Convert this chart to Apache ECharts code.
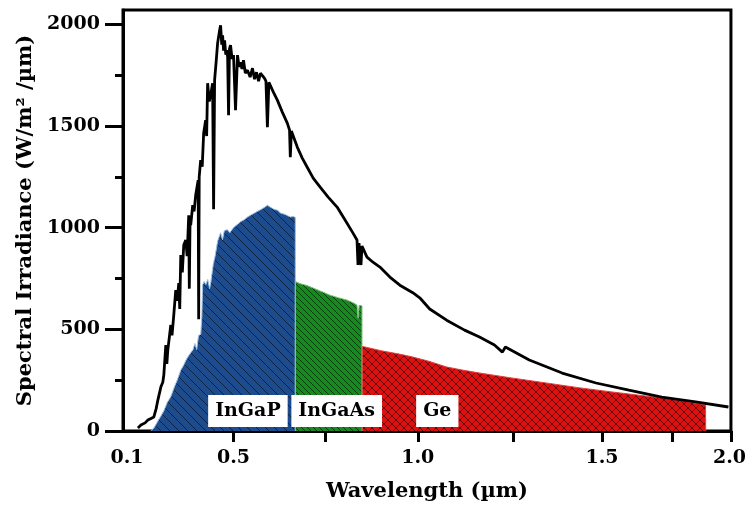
<!DOCTYPE html>
<html>
<head>
<meta charset="utf-8">
<script src="https://cdn.jsdelivr.net/npm/echarts@6/dist/echarts.min.js"></script>
<style>
    html,body{margin:0;padding:0;background:#fff;}
    #spectrum{width:749px;height:516px;}
</style>
</head>
<body>
<div id="spectrum"></div>
<script>
// AM0 solar spectrum (wavelength um, W/m2/um)
const am0X=[0.2405,0.2486,0.2600,0.2676,0.2760,0.2838,0.2900,0.2946,0.3027,0.3080,0.3108,0.3162,0.3190,0.3216,0.3297,0.3330,0.3378,0.3432,0.3470,0.3514,0.3540,0.3568,0.3610,0.3649,0.3703,0.3740,0.3784,0.3800,0.3820,0.3838,0.3892,0.3930,0.3973,0.4040,0.4054,0.4068,0.4108,0.4150,0.4189,0.4243,0.4270,0.4297,0.4340,0.4378,0.4432,0.4459,0.4486,0.4530,0.4568,0.4622,0.4649,0.4680,0.4703,0.4730,0.4757,0.4790,0.4811,0.4840,0.4865,0.4890,0.4919,0.4960,0.5000,0.5054,0.5108,0.5150,0.5189,0.5230,0.5270,0.5320,0.5378,0.5450,0.5514,0.5570,0.5622,0.5680,0.5730,0.5838,0.5880,0.5919,0.5960,0.6081,0.6189,0.6324,0.6459,0.6520,0.6541,0.6570,0.6730,0.6865,0.7000,0.7162,0.7351,0.7568,0.7811,0.8027,0.8243,0.8351,0.8378,0.8405,0.8459,0.8486,0.8622,0.8784,0.8973,0.9243,0.9514,0.9865,1.0054,1.0324,1.0784,1.1270,1.1676,1.2081,1.2297,1.2378,1.3027,1.3919,1.4838,1.5730,1.6622,1.7541,1.8432];
const am0Y=[15,29,40,54,62,69,110,152,216,240,275,423,330,398,521,470,570,693,640,727,600,865,780,914,939,860,1061,700,1040,1012,1111,1080,1160,1233,550,1250,1332,1300,1464,1528,1450,1710,1620,1651,1710,1090,1725,1820,1907,1970,1995,1900,1946,1870,1921,1850,1872,1840,1553,1880,1897,1830,1848,1577,1848,1790,1813,1780,1823,1760,1774,1740,1784,1730,1764,1720,1759,1735,1720,1494,1715,1666,1627,1568,1514,1480,1346,1475,1396,1342,1297,1243,1199,1150,1101,1037,973,939,816,924,816,909,855,830,806,757,717,680,655,600,545,496,462,423,388,413,349,285,236,201,167,143,118];

// InGaP sub-cell share
const ingapX=[0.275,0.284,0.295,0.305,0.311,0.320,0.330,0.340,0.345,0.357,0.365,0.370,0.378,0.384,0.390,0.395,0.400,0.405,0.411,0.414,0.416,0.420,0.425,0.430,0.435,0.438,0.445,0.450,0.457,0.462,0.465,0.470,0.475,0.483,0.490,0.500,0.510,0.520,0.530,0.538,0.545,0.555,0.565,0.573,0.580,0.592,0.600,0.610,0.620,0.627,0.640,0.654,0.662,0.6676,0.6677];
const ingapY=[0,15,50,80,100,140,170,220,240,300,325,345,370,385,400,430,400,470,475,560,717,735,720,745,700,727,820,860,935,960,975,940,985,990,975,1000,1015,1030,1040,1052,1060,1070,1080,1088,1095,1110,1100,1090,1085,1072,1065,1052,1055,1050,0];

// InGaAs sub-cell share
const ingaasX=[0.6677,0.6678,0.680,0.700,0.716,0.740,0.762,0.785,0.808,0.825,0.835,0.838,0.841,0.8486,0.8487];
const ingaasY=[0,735,725,715,703,685,668,655,644,630,620,555,618,615,0];

// Ge sub-cell share
const geX=[0.8490,0.8495,0.857,0.900,0.950,0.986,1.030,1.078,1.120,1.168,1.250,1.349,1.440,1.527,1.600,1.662,1.720,1.781,1.7815];
const geY=[0,415,413,395,378,364,343,315,300,285,262,236,212,192,176,162,147,128,0];

// cell labels
const cellNames=['InGaP','InGaAs','Ge'];
const cellLabelX=[0.539,0.780,1.053];
const cellLabelY=[98,98,98];

// axis ticks and labels
const xTickAt=[0.5,0.75,1.0,1.26,1.5,1.69,1.85];
const xLabelAt=[0.211,0.5,1.0,1.5,1.846];
const xLabelText=['0.1','0.5','1.0','1.5','2.0'];
const yMajor=[0,500,1000,1500,2000];
const yMinor=[250,750,1250,1750];

const zip=(xs,ys)=>xs.map((x,i)=>[x,ys[i]]);

// hatch pattern for the filled areas
function hatch(bg,size,cross){
    let c=document.createElement('canvas');
    c.width=c.height=size;
    let ctx=c.getContext('2d');
    ctx.fillStyle=bg;
    ctx.fillRect(0,0,size,size);
    ctx.strokeStyle='rgba(0,0,0,0.55)';
    ctx.lineWidth=1;
    for(let k=-size;k<=size;k+=size){
        ctx.beginPath();
        ctx.moveTo(k,0);ctx.lineTo(k+size,size);
        if(cross){ctx.moveTo(k+size,0);ctx.lineTo(k,size);}
        ctx.stroke();
    }
    return {image:c,repeat:'repeat'};
}

const font='DejaVu Serif';
const chart=echarts.init(document.getElementById('spectrum'));

const option={
    animation:false,
    backgroundColor:'#fff',
    grid:{left:123,right:17,top:10,bottom:85,show:true,borderColor:'#000',borderWidth:3},
    xAxis:{
        type:'value',min:0.2,max:1.85,
        name:'Wavelength (µm)',nameLocation:'middle',nameGap:50,
        nameTextStyle:{fontFamily:font,fontWeight:'bold',fontSize:21,color:'#000'},
        axisLine:{lineStyle:{color:'#000',width:3}},
        axisTick:{customValues:xTickAt,length:11,inside:false,lineStyle:{color:'#000',width:3}},
        axisLabel:{
            customValues:xLabelAt,margin:18,
            fontFamily:font,fontWeight:'bold',fontSize:19,color:'#000',
            formatter:(v)=>{
                let i=xLabelAt.findIndex(a=>Math.abs(a-v)<1e-6);
                return i<0?'':xLabelText[i];
            }
        },
        splitLine:{show:false}
    },
    yAxis:[
        {
            type:'value',min:0,max:2070,
            name:'Spectral Irradiance (W/m² /µm)',nameLocation:'middle',nameGap:84,nameRotate:90,
            nameTextStyle:{fontFamily:font,fontWeight:'bold',fontSize:21,color:'#000'},
            axisLine:{show:true,lineStyle:{color:'#000',width:3}},
            axisTick:{customValues:yMajor,length:18,lineStyle:{color:'#000',width:3}},
            axisLabel:{
                customValues:yMajor,margin:23,formatter:(v)=>String(v),
                fontFamily:font,fontWeight:'bold',fontSize:19,color:'#000'
            },
            splitLine:{show:false}
        },
        {
            // short minor ticks only
            type:'value',min:0,max:2070,position:'left',
            axisLine:{show:false},
            axisTick:{show:true,customValues:yMinor,length:8,lineStyle:{color:'#000',width:3}},
            axisLabel:{show:false},
            splitLine:{show:false}
        }
    ],
    series:[
        {
            name:'InGaP',type:'line',data:zip(ingapX,ingapY),showSymbol:false,z:2,
            lineStyle:{color:'#9fbfe0',width:1},
            areaStyle:{color:hatch('#1c4c8e',9,false),opacity:1}
        },
        {
            name:'InGaAs',type:'line',data:zip(ingaasX,ingaasY),showSymbol:false,z:2,
            lineStyle:{color:'#7cc47f',width:1},
            areaStyle:{color:hatch('#168a1e',6,false),opacity:1}
        },
        {
            name:'Ge',type:'line',data:zip(geX,geY),showSymbol:false,z:2,
            lineStyle:{color:'#e04040',width:1},
            areaStyle:{color:hatch('#de1010',8,true),opacity:1}
        },
        {
            name:'AM0',type:'line',data:zip(am0X,am0Y),showSymbol:false,z:4,
            lineStyle:{color:'#000',width:2.8}
        },
        {
            name:'cells',type:'scatter',z:5,symbolSize:1,
            itemStyle:{color:'rgba(0,0,0,0)',opacity:1},
            data:cellNames.map((n,i)=>({value:[cellLabelX[i],cellLabelY[i]],name:n})),
            label:{
                show:true,position:'inside',formatter:'{b}',opacity:1,
                backgroundColor:'#fff',padding:[7,7,6,7],
                fontFamily:font,fontWeight:'bold',fontSize:19,color:'#000'
            }
        }
    ]
};
chart.setOption(option);
window.addEventListener('resize',chart.resize);
</script>
</body>
</html>
